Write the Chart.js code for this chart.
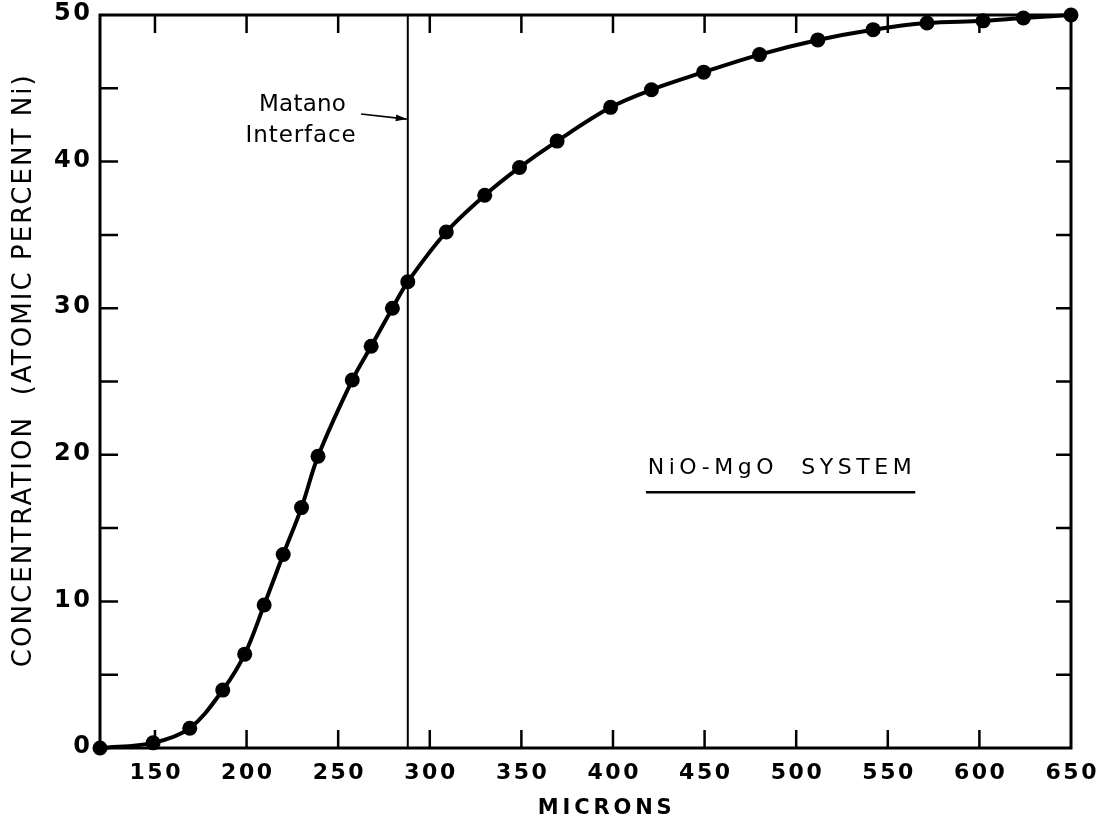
<!DOCTYPE html>
<html>
<head>
<meta charset="utf-8">
<script src="https://cdn.jsdelivr.net/npm/chart.js@4/dist/chart.umd.min.js"></script>
<style>
  html, body { margin:0; padding:0; background:#fff; }
  canvas { display:block; }
</style>
</head>
<body>
<canvas id="chart" width="1108" height="829"></canvas>
<script>
// NiO-MgO diffusion profile
const microns = [120, 149, 169, 187, 199, 209.6, 220, 230, 239, 257.7, 268, 279.6, 288,
                 309, 330, 349, 369.5, 398.7, 421, 449.5, 480, 511.8, 542, 571.4, 602, 624, 650];
const concentration = [0, 0.35, 1.35, 3.95, 6.4, 9.75, 13.2, 16.4, 19.9, 25.1, 27.4, 30.0, 31.8,
                       35.2, 37.7, 39.6, 41.4, 43.7, 44.9, 46.1, 47.3, 48.3, 49.0, 49.45, 49.6, 49.8, 50.0];
const xTicks = [150, 200, 250, 300, 350, 400, 450, 500, 550, 600, 650];
const yTicks = [0, 5, 10, 15, 20, 25, 30, 35, 40, 45, 50];
const yLabels = [0, 10, 20, 30, 40, 50];
const matanoX = 288;

const FONT = '"DejaVu Sans", sans-serif';
const K = '#000';

// draw text centred on (cx, cy); if width given, stretch letter spacing to fill it
function txt(ctx, s, cx, cy, font, width){
  ctx.save();
  ctx.font = font;
  ctx.fillStyle = K;
  ctx.textBaseline = 'middle';
  ctx.textAlign = 'left';
  ctx.letterSpacing = '0px';
  const w0 = ctx.measureText(s).width;
  let sp = 0;
  if(width && s.length > 1) sp = (width - w0) / (s.length - 1);
  ctx.letterSpacing = sp + 'px';
  const w = w0 + sp * (s.length - 1);
  ctx.fillText(s, cx - w/2, cy);
  ctx.restore();
  return w;
}

const decor = {
  id: 'decor',
  afterDatasetsDraw(chart){
    const ctx = chart.ctx, xs = chart.scales.x, ys = chart.scales.y, a = chart.chartArea;
    ctx.save();
    ctx.strokeStyle = K;
    // frame
    ctx.lineWidth = 3;
    ctx.strokeRect(a.left, a.top, a.right - a.left, a.bottom - a.top);
    // inner ticks
    ctx.lineWidth = 2.5;
    ctx.beginPath();
    for(const v of xTicks){
      if(v >= 650) continue;
      const px = xs.getPixelForValue(v);
      ctx.moveTo(px, a.bottom); ctx.lineTo(px, a.bottom - 18);
      ctx.moveTo(px, a.top); ctx.lineTo(px, a.top + 18);
    }
    for(const v of yTicks){
      if(v <= 0 || v >= 50) continue;
      const py = ys.getPixelForValue(v);
      ctx.moveTo(a.left, py); ctx.lineTo(a.left + 18, py);
      ctx.moveTo(a.right, py); ctx.lineTo(a.right - 15, py);
    }
    ctx.stroke();
    // Matano interface line
    const mx = xs.getPixelForValue(matanoX);
    ctx.lineWidth = 2;
    ctx.beginPath();
    ctx.moveTo(mx, a.top); ctx.lineTo(mx, a.bottom);
    ctx.stroke();
    // arrow to the interface
    const ax0 = xs.getPixelForValue(262.5), ay0 = ys.getPixelForValue(43.25);
    const ax1 = mx - 1, ay1 = ys.getPixelForValue(42.9);
    ctx.lineWidth = 1.6;
    ctx.beginPath(); ctx.moveTo(ax0, ay0); ctx.lineTo(ax1, ay1); ctx.stroke();
    const ang = Math.atan2(ay1 - ay0, ax1 - ax0);
    ctx.fillStyle = K;
    ctx.beginPath();
    ctx.moveTo(ax1, ay1);
    ctx.lineTo(ax1 - 11*Math.cos(ang) + 3.5*Math.sin(ang), ay1 - 11*Math.sin(ang) - 3.5*Math.cos(ang));
    ctx.lineTo(ax1 - 11*Math.cos(ang) - 3.5*Math.sin(ang), ay1 - 11*Math.sin(ang) + 3.5*Math.cos(ang));
    ctx.closePath(); ctx.fill();
    ctx.restore();

    // tick labels
    for(const v of xTicks){
      txt(ctx, String(v), xs.getPixelForValue(v), a.bottom + 25, 'bold 22px ' + FONT, 51);
    }
    for(const v of yLabels){
      const s = String(v);
      ctx.save();
      ctx.font = 'bold 24px ' + FONT;
      const wd = s.length === 2 ? 36 : ctx.measureText(s).width;
      ctx.restore();
      txt(ctx, s, a.left - 10 - wd/2, ys.getPixelForValue(v) - 1, 'bold 24px ' + FONT, s.length === 2 ? 36 : 0);
    }

    // annotations
    txt(ctx, 'Matano', xs.getPixelForValue(230.5), ys.getPixelForValue(43.85), '23px ' + FONT, 87);
    txt(ctx, 'Interface', xs.getPixelForValue(229.5), ys.getPixelForValue(41.75), '23px ' + FONT, 110);

    txt(ctx, 'NiO-MgO  SYSTEM', xs.getPixelForValue(491), ys.getPixelForValue(19.1), '22px ' + FONT, 264);
    ctx.save();
    ctx.strokeStyle = K; ctx.lineWidth = 2.5;
    const uy = ys.getPixelForValue(17.45);
    ctx.beginPath();
    ctx.moveTo(xs.getPixelForValue(418), uy); ctx.lineTo(xs.getPixelForValue(565), uy);
    ctx.stroke();
    ctx.restore();

    // axis titles
    txt(ctx, 'MICRONS', xs.getPixelForValue(395.5), 809, 'bold 21px ' + FONT, 134);
    ctx.save();
    ctx.translate(24, ys.getPixelForValue(25.7));
    ctx.rotate(-Math.PI/2);
    txt(ctx, 'CONCENTRATION  (ATOMIC PERCENT Ni)', 0, 0, '26px ' + FONT, 592);
    ctx.restore();
  }
};

new Chart(document.getElementById('chart'), {
  type: 'scatter',
  data: {
    datasets: [{
      data: microns.map((m, i) => ({ x: m, y: concentration[i] })),
      showLine: true,
      borderColor: K,
      borderWidth: 4,
      backgroundColor: K,
      pointRadius: 7.5,
      pointHoverRadius: 7.5,
      pointBorderWidth: 0,
      tension: 0.35,
      clip: false
    }]
  },
  options: {
    responsive: false,
    animation: false,
    devicePixelRatio: 1,
    layout: { padding: { left: 0, right: 37, top: 15, bottom: 0 } },
    plugins: { legend: { display: false }, tooltip: { enabled: false } },
    scales: {
      x: {
        type: 'linear',
        min: 120, max: 650,
        afterBuildTicks: s => { s.ticks = xTicks.map(v => ({ value: v })); },
        afterFit: s => { s.height = 81; },
        grid: { display: false },
        border: { display: false },
        ticks: { display: false }
      },
      y: {
        type: 'linear',
        min: 0, max: 50,
        afterBuildTicks: s => { s.ticks = yTicks.map(v => ({ value: v })); },
        afterFit: s => { s.width = 100; },
        grid: { display: false },
        border: { display: false },
        ticks: { display: false }
      }
    }
  },
  plugins: [decor]
});
</script>
</body>
</html>
